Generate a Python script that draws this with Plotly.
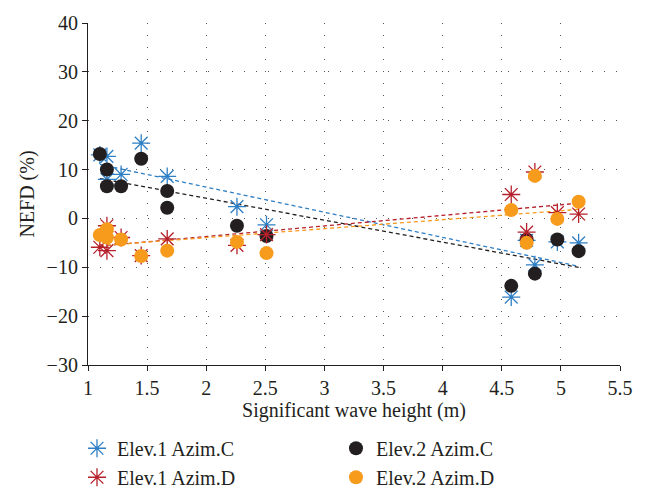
import numpy as np
import plotly.graph_objects as go

# Significant wave height (m)
wave_height = [1.10, 1.16, 1.16, 1.28, 1.45, 1.67, 1.67, 2.26, 2.51, 4.58, 4.71, 4.78, 4.97, 5.15]
# NEFD (%) per configuration (None = not shown)
elev1_azimC = [13.0, 12.7, 8.0, 9.0, 15.4, 8.6, None, 2.4, -1.3, -16.1, -4.5, -9.5, -4.8, -5.0]
elev1_azimD = [-5.9, -1.5, -6.6, -3.9, -7.6, -4.2, None, -5.5, -3.3, 4.9, -2.8, 9.5, 1.2, 0.9]
elev2_azimC = [13.2, 10.0, 6.6, 6.6, 12.2, 5.6, 2.2, -1.5, -3.6, -13.8, -4.3, -11.3, -4.3, -6.7]
elev2_azimD = [-3.4, -2.2, -3.9, -4.3, -7.7, -6.6, None, -4.8, -7.1, 1.7, -5.0, 8.7, -0.1, 3.4]

x_ticks = [1, 1.5, 2, 2.5, 3, 3.5, 4, 4.5, 5, 5.5]
y_ticks = [-30, -20, -10, 0, 10, 20, 30, 40]

series = [
    ("Elev.1 Azim.C", elev1_azimC, "#2f7fc4", "asterisk-open", 15),
    ("Elev.2 Azim.C", elev2_azimC, "#231f20", "circle", 14),
    ("Elev.1 Azim.D", elev1_azimD, "#b5202b", "asterisk-open", 15),
    ("Elev.2 Azim.D", elev2_azimD, "#f79b1c", "circle", 14),
]

fig = go.Figure()
font_family = "Liberation Serif"
fsize = 20

# trend lines (least squares) drawn first
for name, ys, color, sym, size in series:
    xs = np.array([x for x, y in zip(wave_height, ys) if y is not None])
    yv = np.array([y for y in ys if y is not None])
    k, b = np.polyfit(xs, yv, 1)
    xl = np.array([xs.min(), xs.max()])
    fig.add_trace(go.Scatter(x=xl, y=k * xl + b, mode="lines",
                             line=dict(color=color, width=1.3, dash="4px,3px"),
                             showlegend=False, hoverinfo="skip"))

for name, ys, color, sym, size in series:
    if sym == "circle":
        marker = dict(symbol=sym, size=size, color=color, line=dict(width=0))
    else:
        marker = dict(symbol=sym, size=size, color=color, line=dict(width=1.3, color=color))
    fig.add_trace(go.Scatter(x=wave_height, y=ys, mode="markers", name=name, marker=marker))

axis_common = dict(
    showgrid=True, gridcolor="#555555", gridwidth=1, griddash="1px,11px",
    showline=True, linecolor="#231f20", linewidth=1.2,
    ticks="outside", ticklen=5, tickcolor="#231f20",
    zeroline=False, tickfont=dict(family=font_family, size=fsize, color="#231f20"),
    title_font=dict(family=font_family, size=fsize, color="#231f20"),
)

fig.update_xaxes(range=[1, 5.5], tickvals=x_ticks, ticktext=[str(v) for v in x_ticks],
                 title_text="Significant wave height (m)", title_standoff=2, **axis_common)
fig.update_yaxes(range=[-30, 40], tickvals=y_ticks, ticktext=["\u2212" + str(-v) if v < 0 else str(v) for v in y_ticks],
                 title_text="NEFD (%)", title_standoff=6, **axis_common)

fig.update_layout(
    width=647, height=490,
    margin=dict(l=88, r=27, t=18, b=125),
    paper_bgcolor="white", plot_bgcolor="white",
    font=dict(family=font_family, size=fsize, color="#231f20"),
    legend=dict(orientation="h", xref="container", x=0.119, xanchor="left",
                yref="container", y=0.125, yanchor="top",
                entrywidth=214, entrywidthmode="pixels", itemwidth=30,
                font=dict(family=font_family, size=fsize, color="#231f20"),
                bgcolor="rgba(0,0,0,0)"),
)

fig.write_html("out.html", config={"displayModeBar": False},
               post_script="document.body.style.margin='0';document.body.style.overflow='hidden';")
